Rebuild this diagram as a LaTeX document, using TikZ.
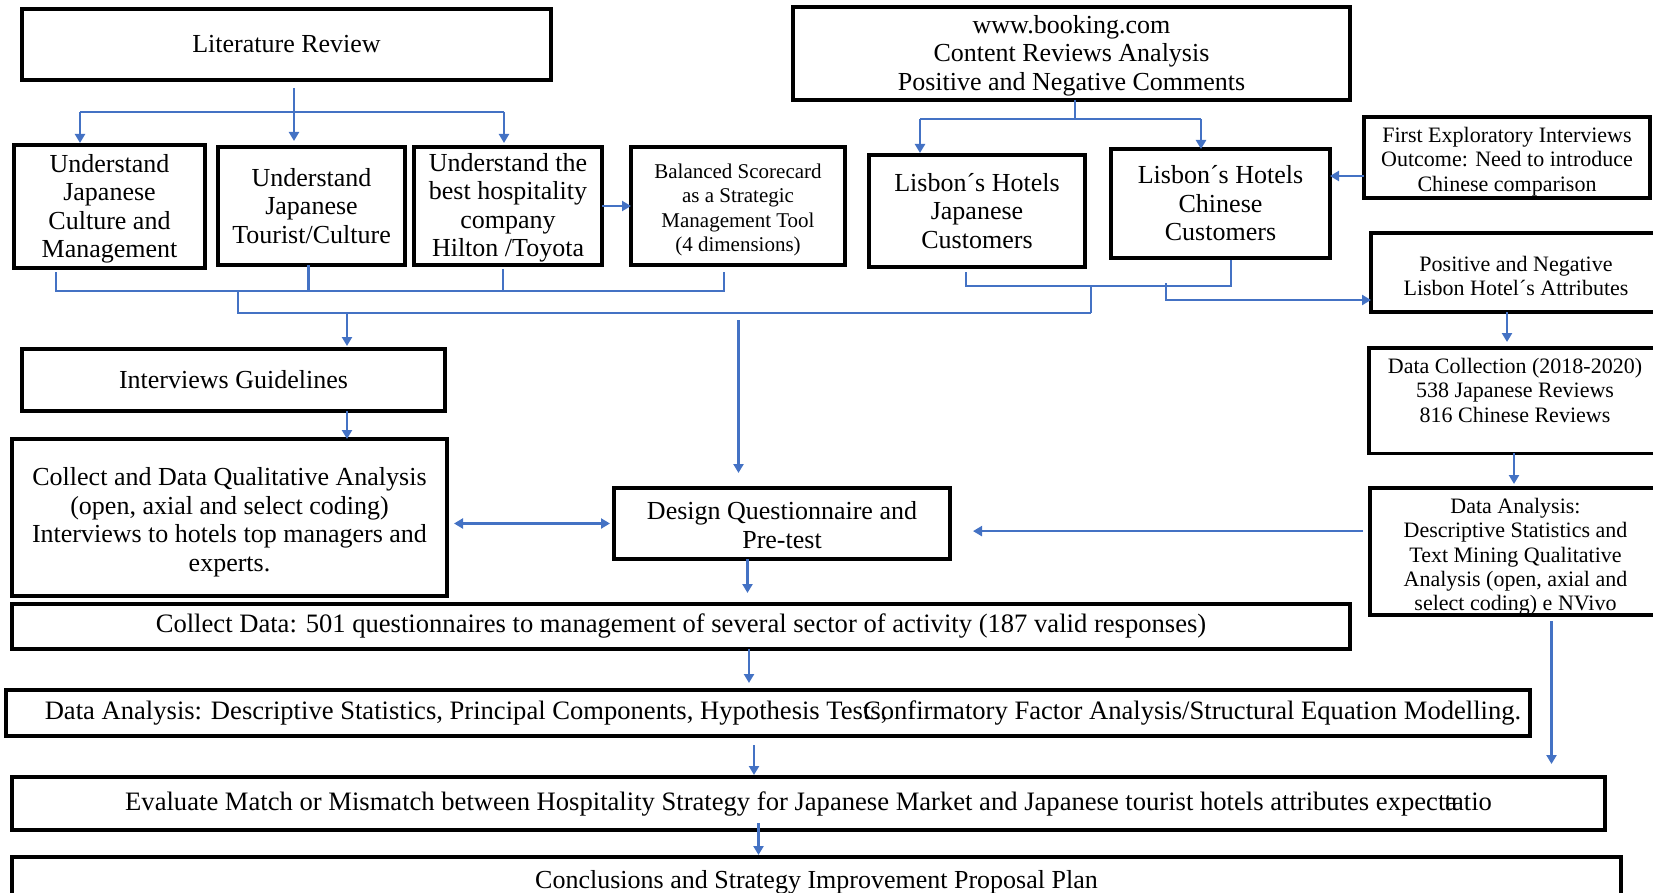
\documentclass[tikz,border=0pt]{standalone}
\usepackage{fontspec}
\setmainfont{Liberation Serif}
\usetikzlibrary{arrows.meta}
\definecolor{flowblue}{RGB}{68,114,196}
% strut on a first line that moves a centred text block down by #1
\newcommand\textdrop[1]{\rule{0pt}{\dimexpr 0.683em + #1*2\relax}}
\begin{document}
\begin{tikzpicture}[x=1pt,y=-1pt,
  box/.style={draw=black, line width=3.5pt, inner sep=0pt, outer sep=0pt,
    anchor=north west, align=center, font=\fontsize{26}{28.5}\selectfont},
  smallbox/.style={box, font=\fontsize{22}{24.2}\selectfont},
  widebox/.style={box, font=\fontsize{26.6}{28.5}\selectfont},
  link/.style={draw=flowblue, line width=2.6pt},
  arr/.style={link, -{Triangle[length=9pt,width=10pt]}},
  darr/.style={link, {Triangle[length=9pt,width=10pt]}-{Triangle[length=9pt,width=10pt]}},
]
\useasboundingbox (0,0) rectangle (1653,893);

% ---------- boxes ----------
\node[box, minimum width=529pt, minimum height=71pt] (lit) at (22,9) {Literature Review};
\node[box, minimum width=191pt, minimum height=123pt] (u1) at (14,145)
  {\textdrop{2.6pt}Understand\\Japanese\\Culture and\\Management};
\node[box, minimum width=187pt, minimum height=118pt] (u2) at (218,147)
  {Understand\\Japanese\\Tourist/Culture};
\node[box, minimum width=188pt, minimum height=118pt] (u3) at (414,147)
  {\textdrop{2.1pt}Understand the\\best hospitality\\company\\Hilton /Toyota};
\node[box, font=\fontsize{21}{24.3}\selectfont, minimum width=214pt, minimum height=118pt] (bsc) at (631,147)
  {\textdrop{4.2pt}Balanced Scorecard\\as a Strategic\\Management Tool\\(4 dimensions)};
\node[box, minimum width=557pt, minimum height=93pt] (book) at (793,7)
  {\textdrop{2.1pt}www.booking.com\\Content Reviews Analysis\\Positive and Negative Comments};
\node[box, minimum width=216pt, minimum height=112pt] (lj) at (869,155)
  {Lisbon´s Hotels\\Japanese\\Customers};
\node[box, minimum width=219pt, minimum height=109pt] (lc) at (1111,149)
  {Lisbon´s Hotels\\Chinese\\Customers};
\node[smallbox, minimum width=286pt, minimum height=81pt] (fe) at (1364,117)
  {\textdrop{4.2pt}First Exploratory Interviews\\Outcome: Need to introduce\\Chinese comparison};
\node[smallbox, minimum width=290pt, minimum height=79pt] (pn) at (1371,233)
  {\textdrop{3.2pt}Positive and Negative\\Lisbon Hotel´s Attributes};
\node[smallbox, minimum width=292pt, minimum height=104pt] (dc) at (1369,348)
  {\textdrop{5.3pt}Data Collection (2018-2020)\\538 Japanese Reviews\\816 Chinese Reviews\\\strut};
\node[smallbox, minimum width=291pt, minimum height=127pt] (da) at (1370,488)
  {\textdrop{5.3pt}Data Analysis:\\Descriptive Statistics and\\Text Mining Qualitative\\Analysis (open, axial and\\select coding) e NVivo};
\node[box, minimum width=423pt, minimum height=62pt] (ig) at (22,349) {Interviews Guidelines};
\node[box, minimum width=435pt, minimum height=157pt] (cq) at (12,439)
  {\textdrop{5pt}Collect and Data Qualitative Analysis\\(open, axial and select coding)\\Interviews to hotels top managers and\\experts.};
\node[box, minimum width=336pt, minimum height=71pt] (dq) at (614,488)
  {\textdrop{1.5pt}Design Questionnaire and\\Pre-test};
\node[widebox, minimum width=1338pt, minimum height=45pt] (cd) at (12,604)
  {Collect Data: 501 questionnaires to management of several sector of activity (187 valid responses)};
\node[widebox, minimum width=1524pt, minimum height=46pt] (lda) at (6,690)
  {\hspace*{30pt}Data Analysis: Descriptive Statistics, Principal Components, Hypothesis Tes\rlap{ts,}Confirmatory Factor Analysis/Structural Equation Modelling.};
\node[widebox, minimum width=1593pt, minimum height=53pt] (ev) at (12,777)
  {Evaluate Match or Mismatch between Hospitality Strategy for Japanese Market and Japanese tourist hotels attributes expec\rlap{ta}\kern0.25em tatio};
\node[box, minimum width=1609pt, minimum height=50pt] (con) at (12,857)
  {\raisebox{4pt}{Conclusions and Strategy Improvement Proposal Plan}};

% ---------- literature review fan-out ----------
\coordinate (litS) at (294,88);
\coordinate (litL) at (80,112);
\coordinate (litR) at (504,112);
\draw[link] (litL) -- (litR);
\draw[arr, shorten >=6pt] (litS) -- (litS |- u2.north);
\draw[arr, shorten >=2pt] (litL) -- (litL |- u1.north);
\draw[arr, shorten >=4pt] (litR) -- (litR |- u3.north);
\draw[arr] (u3) -- (bsc);

% ---------- bracket under the four study boxes ----------
\coordinate (bL) at (56,291);
\coordinate (bR) at (724,291);
\draw[link] ([yshift=-4pt]bL |- u1.south) -- (bL) -- (bR) -- ([yshift=-7pt]bR |- bsc.south);
\draw[link] ([xshift=-3pt]u2.south) -- ([xshift=-3pt]u2.south |- bL);
\draw[link] ([xshift=-5pt,yshift=-4pt]u3.south) -- ([xshift=-5pt]u3.south |- bL);

% ---------- main collector ----------
\coordinate (mL) at (238,313);
\coordinate (mR) at (1091,313);
\coordinate (mIG) at (347,313);
\coordinate (mDQ) at (738.5,320);
\draw[link] (mL |- bL) -- (mL) -- (mR);
\draw[arr, shorten >=3pt] (mIG) -- (mIG |- ig.north);
\draw[arr, shorten >=15pt] (mDQ) -- (mDQ |- dq.north);

% ---------- booking fan-out ----------
\coordinate (bkJ) at (1075,119);
\coordinate (bkL) at (920,119);
\coordinate (bkR) at (1201,119);
\draw[link] (bkJ |- book.south) -- (bkJ);
\draw[link] (bkL) -- (bkR);
\draw[arr, shorten >=2pt] (bkL) -- (bkL |- lj.north);
\draw[arr] (bkR) -- (bkR |- lc.north);
\draw[arr] ([yshift=-18.5pt]fe.west) -- ([yshift=-18.5pt]fe.west -| lc.east);

% ---------- Lisbon hotels bracket ----------
\coordinate (lL) at (966,286);
\coordinate (lR) at (1231,286);
\coordinate (pJ) at (1166,300);
\draw[link] ([yshift=-5pt]lL |- lj.south) -- (lL) -- (lR) -- ([yshift=-2pt]lR |- lc.south);
\draw[link] (mR |- lL) -- (mR);
\draw[arr] ([yshift=3pt]pJ |- lL) -- (pJ) -- (pJ -| pn.west);

% ---------- right-hand column ----------
\draw[arr, shorten >=6pt] ([xshift=-9pt]pn.south) -- ([xshift=-9pt]pn.south |- dc.north);
\draw[arr, shorten >=4pt] ([xshift=-1pt]dc.south) -- ([xshift=-1pt]dc.south |- da.north);
\draw[arr, shorten <=7pt, shorten >=23pt] ([yshift=20.5pt]da.west) -- ([yshift=20.5pt]da.west -| dq.east);
\draw[arr, shorten >=13pt] ([xshift=36pt,yshift=-6pt]da.south) -- ([xshift=36pt]da.south |- ev.north);

% ---------- left and central column ----------
\draw[arr] (mIG |- ig.south) -- (mIG |- cq.north);
\draw[darr, shorten <=7pt, shorten >=4pt] (cq.east |- dq) -- (dq.west);
\draw[arr, shorten >=11pt] ([xshift=-34.5pt]dq.south) -- ([xshift=-34.5pt]dq.south |- cd.north);
\draw[arr, shorten >=7pt] ([xshift=68pt]cd.south) -- ([xshift=68pt]cd.south |- lda.north);
\draw[arr, shorten >=2pt] ([xshift=-14pt,yshift=-9pt]lda.south) -- ([xshift=-14pt]lda.south |- ev.north);
\draw[arr, shorten >=2pt] ([xshift=-50pt,yshift=7pt]ev.south) -- ([xshift=-50pt]ev.south |- con.north);
\end{tikzpicture}
\end{document}
